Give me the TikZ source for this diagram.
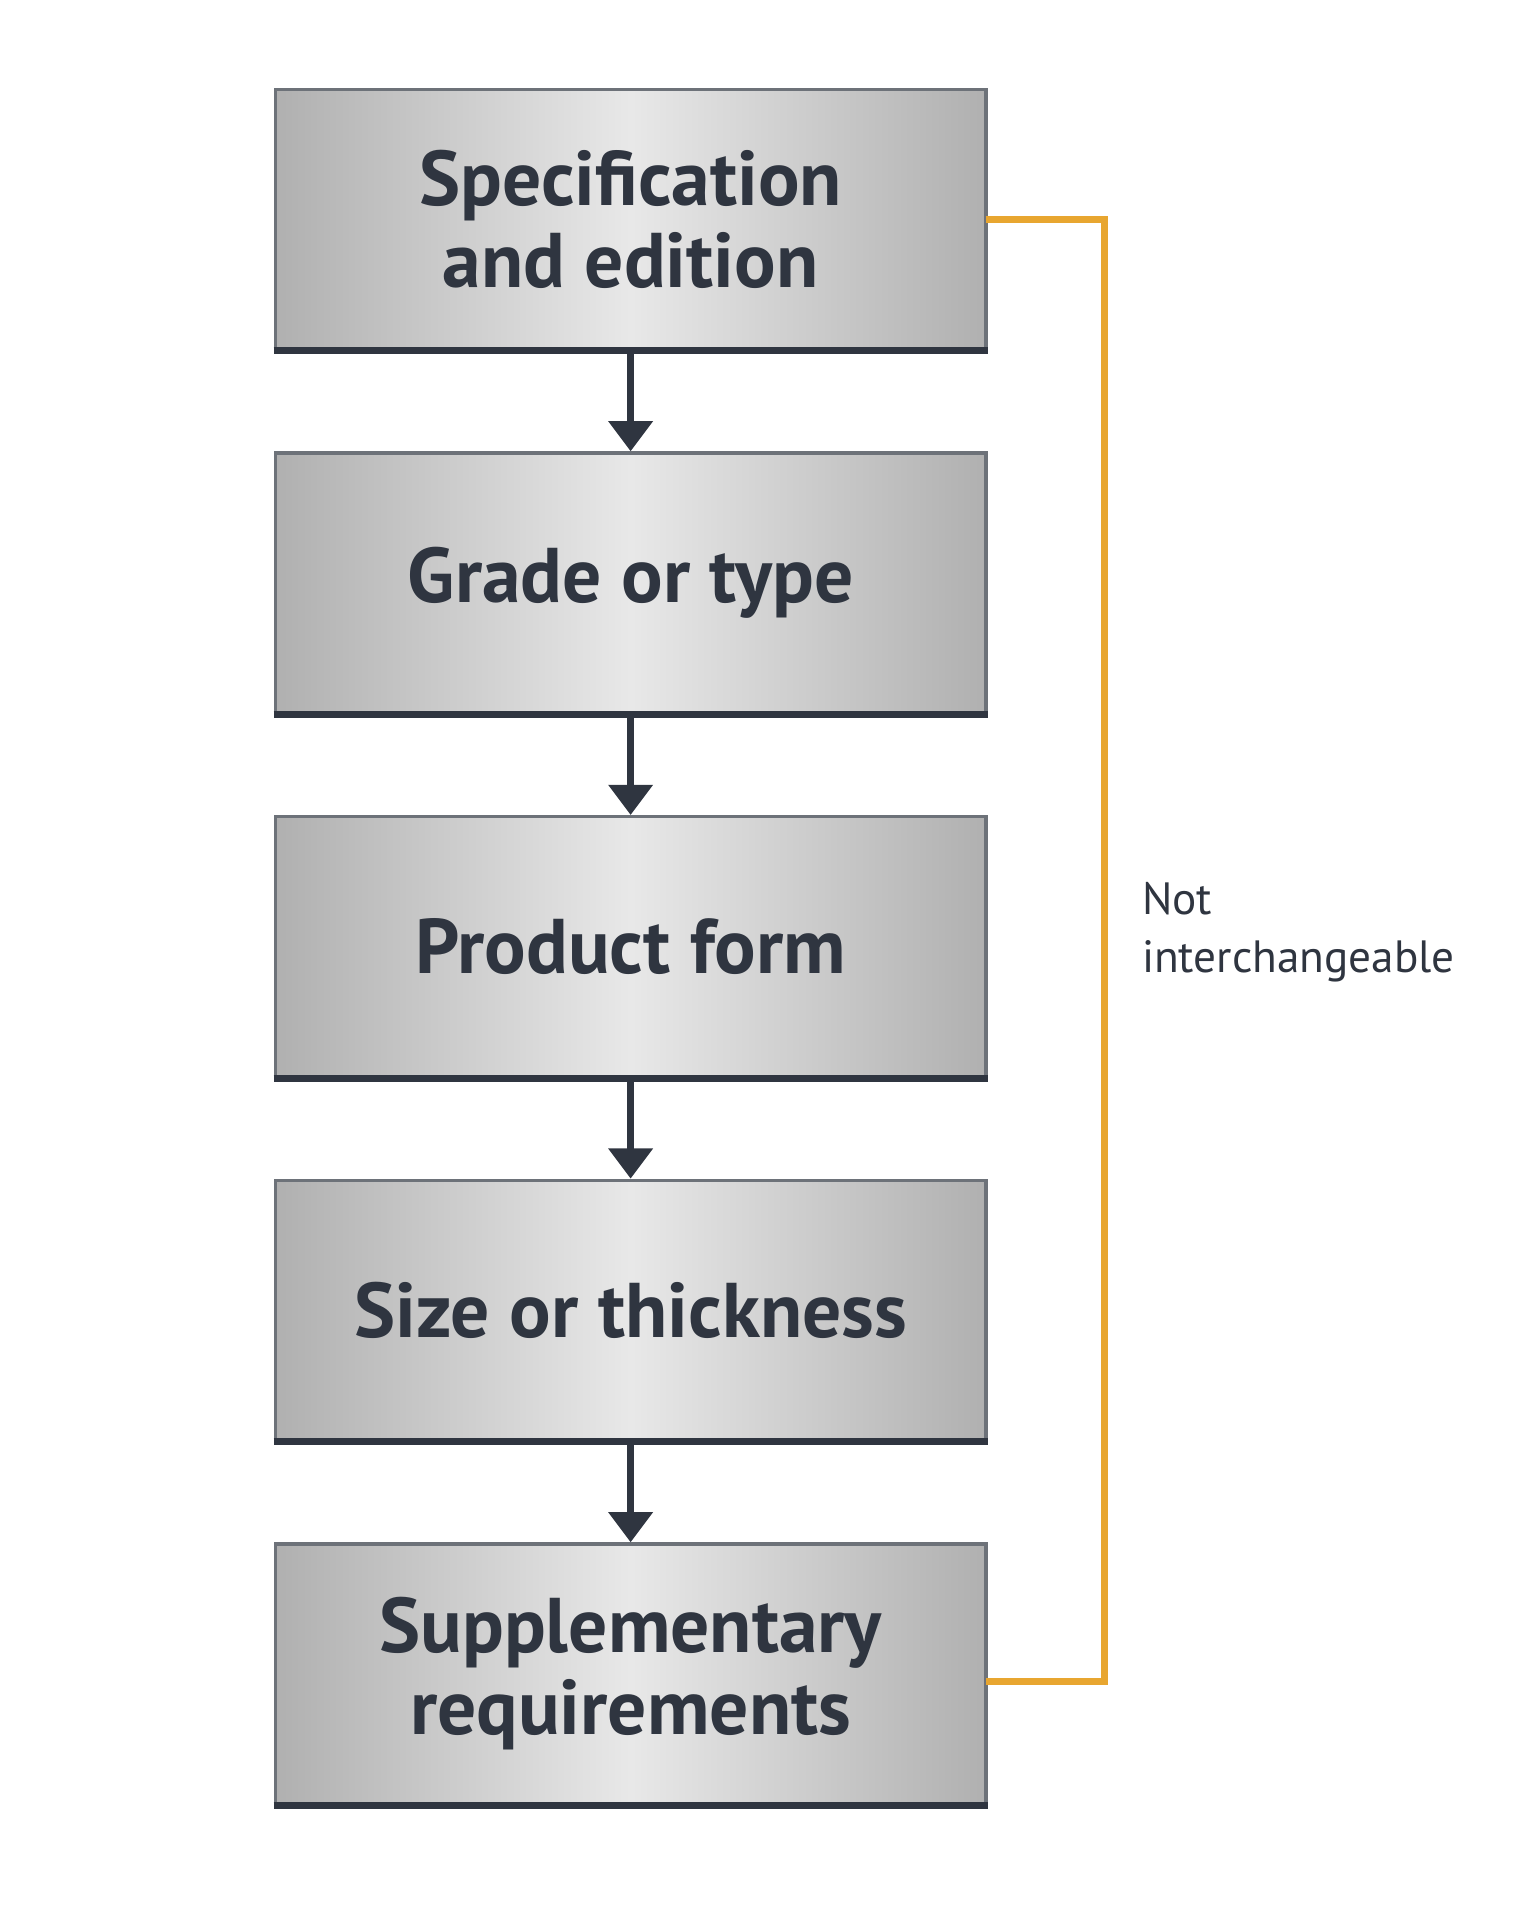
\documentclass[tikz,border=0pt]{standalone}
\usepackage{fontspec}
\setmainfont{PT Sans}
\usetikzlibrary{arrows.meta}
\definecolor{ink}{HTML}{2F3540}
\definecolor{gold}{HTML}{E8A630}
\tikzset{
  box/.style={draw=ink!70, line width=0.8pt, minimum width=5.8cm, minimum height=2.12cm,
    left color=gray!62, right color=gray!62, middle color=gray!18, shading angle=90,
    align=center, font=\bfseries\fontsize{18}{19}\selectfont, text=ink, inner sep=0pt},
  arr/.style={draw=ink, line width=1.6pt, -{Triangle[length=7pt,width=10pt]}},
  bracket/.style={draw=gold, line width=1.6pt}
}
\begin{document}
\begin{tikzpicture}[x=0.01cm,y=-0.01cm]
\useasboundingbox (0,0) rectangle (1242,1568);
\node[box] (b1) at (515,179) {Specification\\and edition};
\node[box] (b2) at (515,476) {Grade or type};
\node[box] (b3) at (515,773) {Product form};
\node[box] (b4) at (515,1070) {Size or thickness};
\node[box] (b5) at (515,1367) {Supplementary\\requirements};
\foreach \n in {1,...,5}{\draw[ink, line width=1.6pt] (b\n.south west) -- (b\n.south east);}
\draw[arr] (b1) -- (b2);
\draw[arr] (b2) -- (b3);
\draw[arr] (b3) -- (b4);
\draw[arr] (b4) -- (b5);
\coordinate (t) at (902,179);
\coordinate (u) at (902,1373);
\draw[bracket] (805,179) -- (t) -- (u) -- (805,1373);
\node[anchor=north west, align=left, font=\fontsize{10.5}{13.5}\selectfont, text=ink, inner sep=0pt] (lab) at (932,720) {Not\\interchangeable};
\end{tikzpicture}
\end{document}
